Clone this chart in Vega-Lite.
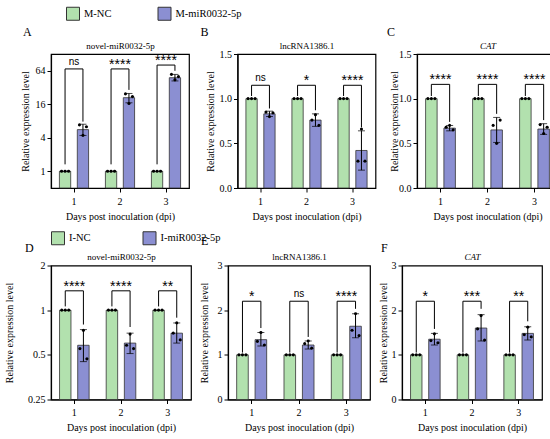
{
  "$schema": "https://vega.github.io/schema/vega-lite/v6.json",
  "description": "Relative expression of novel-miR0032-5p, lncRNA1386.1 and CAT after inoculation, six panels",
  "padding": {"left": 3, "top": 6, "right": 5, "bottom": 5},
  "datasets": {
    "bars": [
      {"p": "A", "day": 1, "grp": "NC", "label": "M-NC", "mean": 1},
      {"p": "A", "day": 1, "grp": "miR", "label": "M-miR0032-5p", "mean": 5.6, "lo": 4.4, "hi": 7.0},
      {"p": "A", "day": 2, "grp": "NC", "label": "M-NC", "mean": 1},
      {"p": "A", "day": 2, "grp": "miR", "label": "M-miR0032-5p", "mean": 21, "lo": 17, "hi": 25},
      {"p": "A", "day": 3, "grp": "NC", "label": "M-NC", "mean": 1},
      {"p": "A", "day": 3, "grp": "miR", "label": "M-miR0032-5p", "mean": 48, "lo": 42, "hi": 55},
      {"p": "B", "day": 1, "grp": "NC", "label": "M-NC", "mean": 1},
      {"p": "B", "day": 1, "grp": "miR", "label": "M-miR0032-5p", "mean": 0.83, "lo": 0.80, "hi": 0.86},
      {"p": "B", "day": 2, "grp": "NC", "label": "M-NC", "mean": 1},
      {"p": "B", "day": 2, "grp": "miR", "label": "M-miR0032-5p", "mean": 0.76, "lo": 0.69, "hi": 0.83},
      {"p": "B", "day": 3, "grp": "NC", "label": "M-NC", "mean": 1},
      {"p": "B", "day": 3, "grp": "miR", "label": "M-miR0032-5p", "mean": 0.42, "lo": 0.20, "hi": 0.64},
      {"p": "C", "day": 1, "grp": "NC", "label": "M-NC", "mean": 1},
      {"p": "C", "day": 1, "grp": "miR", "label": "M-miR0032-5p", "mean": 0.67, "lo": 0.64, "hi": 0.70},
      {"p": "C", "day": 2, "grp": "NC", "label": "M-NC", "mean": 1},
      {"p": "C", "day": 2, "grp": "miR", "label": "M-miR0032-5p", "mean": 0.65, "lo": 0.51, "hi": 0.79},
      {"p": "C", "day": 3, "grp": "NC", "label": "M-NC", "mean": 1},
      {"p": "C", "day": 3, "grp": "miR", "label": "M-miR0032-5p", "mean": 0.66, "lo": 0.60, "hi": 0.72},
      {"p": "D", "day": 1, "grp": "NC", "label": "I-NC", "mean": 1},
      {"p": "D", "day": 1, "grp": "miR", "label": "I-miR0032-5p", "mean": 0.58, "lo": 0.45, "hi": 0.74},
      {"p": "D", "day": 2, "grp": "NC", "label": "I-NC", "mean": 1},
      {"p": "D", "day": 2, "grp": "miR", "label": "I-miR0032-5p", "mean": 0.60, "lo": 0.51, "hi": 0.70},
      {"p": "D", "day": 3, "grp": "NC", "label": "I-NC", "mean": 1},
      {"p": "D", "day": 3, "grp": "miR", "label": "I-miR0032-5p", "mean": 0.70, "lo": 0.60, "hi": 0.82},
      {"p": "E", "day": 1, "grp": "NC", "label": "I-NC", "mean": 1},
      {"p": "E", "day": 1, "grp": "miR", "label": "I-miR0032-5p", "mean": 1.34, "lo": 1.20, "hi": 1.50},
      {"p": "E", "day": 2, "grp": "NC", "label": "I-NC", "mean": 1},
      {"p": "E", "day": 2, "grp": "miR", "label": "I-miR0032-5p", "mean": 1.22, "lo": 1.13, "hi": 1.31},
      {"p": "E", "day": 3, "grp": "NC", "label": "I-NC", "mean": 1},
      {"p": "E", "day": 3, "grp": "miR", "label": "I-miR0032-5p", "mean": 1.64, "lo": 1.38, "hi": 1.92},
      {"p": "F", "day": 1, "grp": "NC", "label": "I-NC", "mean": 1},
      {"p": "F", "day": 1, "grp": "miR", "label": "I-miR0032-5p", "mean": 1.35, "lo": 1.22, "hi": 1.48},
      {"p": "F", "day": 2, "grp": "NC", "label": "I-NC", "mean": 1},
      {"p": "F", "day": 2, "grp": "miR", "label": "I-miR0032-5p", "mean": 1.60, "lo": 1.31, "hi": 1.90},
      {"p": "F", "day": 3, "grp": "NC", "label": "I-NC", "mean": 1},
      {"p": "F", "day": 3, "grp": "miR", "label": "I-miR0032-5p", "mean": 1.48, "lo": 1.33, "hi": 1.63}
    ],
    "pts": [
      {"p": "A", "day": 1, "grp": "NC", "v1": 1, "v2": 1, "v3": 1},
      {"p": "A", "day": 1, "grp": "miR", "v1": 6.8, "v2": 4.4, "v3": 6.3},
      {"p": "A", "day": 2, "grp": "NC", "v1": 1, "v2": 1, "v3": 1},
      {"p": "A", "day": 2, "grp": "miR", "v1": 24.5, "v2": 16.5, "v3": 22},
      {"p": "A", "day": 3, "grp": "NC", "v1": 1, "v2": 1, "v3": 1},
      {"p": "A", "day": 3, "grp": "miR", "v1": 55, "v2": 44, "v3": 50},
      {"p": "B", "day": 1, "grp": "NC", "v1": 1, "v2": 1, "v3": 1},
      {"p": "B", "day": 1, "grp": "miR", "v1": 0.85, "v2": 0.80, "v3": 0.84},
      {"p": "B", "day": 2, "grp": "NC", "v1": 1, "v2": 1, "v3": 1},
      {"p": "B", "day": 2, "grp": "miR", "v1": 0.76, "v2": 0.82, "v3": 0.70},
      {"p": "B", "day": 3, "grp": "NC", "v1": 1, "v2": 1, "v3": 1},
      {"p": "B", "day": 3, "grp": "miR", "v1": 0.30, "v2": 0.66, "v3": 0.30},
      {"p": "C", "day": 1, "grp": "NC", "v1": 1, "v2": 1, "v3": 1},
      {"p": "C", "day": 1, "grp": "miR", "v1": 0.68, "v2": 0.70, "v3": 0.65},
      {"p": "C", "day": 2, "grp": "NC", "v1": 1, "v2": 1, "v3": 1},
      {"p": "C", "day": 2, "grp": "miR", "v1": 0.70, "v2": 0.50, "v3": 0.76},
      {"p": "C", "day": 3, "grp": "NC", "v1": 1, "v2": 1, "v3": 1},
      {"p": "C", "day": 3, "grp": "miR", "v1": 0.71, "v2": 0.61, "v3": 0.68},
      {"p": "D", "day": 1, "grp": "NC", "v1": 1, "v2": 1, "v3": 1},
      {"p": "D", "day": 1, "grp": "miR", "v1": 0.55, "v2": 0.73, "v3": 0.47},
      {"p": "D", "day": 2, "grp": "NC", "v1": 1, "v2": 1, "v3": 1},
      {"p": "D", "day": 2, "grp": "miR", "v1": 0.58, "v2": 0.69, "v3": 0.55},
      {"p": "D", "day": 3, "grp": "NC", "v1": 1, "v2": 1, "v3": 1},
      {"p": "D", "day": 3, "grp": "miR", "v1": 0.70, "v2": 0.82, "v3": 0.63},
      {"p": "E", "day": 1, "grp": "NC", "v1": 1, "v2": 1, "v3": 1},
      {"p": "E", "day": 1, "grp": "miR", "v1": 1.30, "v2": 1.50, "v3": 1.22},
      {"p": "E", "day": 2, "grp": "NC", "v1": 1, "v2": 1, "v3": 1},
      {"p": "E", "day": 2, "grp": "miR", "v1": 1.25, "v2": 1.31, "v3": 1.15},
      {"p": "E", "day": 3, "grp": "NC", "v1": 1, "v2": 1, "v3": 1},
      {"p": "E", "day": 3, "grp": "miR", "v1": 1.55, "v2": 1.92, "v3": 1.43},
      {"p": "F", "day": 1, "grp": "NC", "v1": 1, "v2": 1, "v3": 1},
      {"p": "F", "day": 1, "grp": "miR", "v1": 1.32, "v2": 1.47, "v3": 1.27},
      {"p": "F", "day": 2, "grp": "NC", "v1": 1, "v2": 1, "v3": 1},
      {"p": "F", "day": 2, "grp": "miR", "v1": 1.58, "v2": 1.88, "v3": 1.33},
      {"p": "F", "day": 3, "grp": "NC", "v1": 1, "v2": 1, "v3": 1},
      {"p": "F", "day": 3, "grp": "miR", "v1": 1.45, "v2": 1.62, "v3": 1.40}
    ],
    "brk": [
      {"p": "A", "day": 1, "k": 1, "grp": "NC", "v": 1.33}, {"p": "A", "day": 1, "k": 2, "grp": "NC", "v": 69}, {"p": "A", "day": 1, "k": 3, "grp": "miR", "v": 69}, {"p": "A", "day": 1, "k": 4, "grp": "miR", "v": 7.8},
      {"p": "A", "day": 2, "k": 1, "grp": "NC", "v": 1.33}, {"p": "A", "day": 2, "k": 2, "grp": "NC", "v": 69}, {"p": "A", "day": 2, "k": 3, "grp": "miR", "v": 69}, {"p": "A", "day": 2, "k": 4, "grp": "miR", "v": 29},
      {"p": "A", "day": 3, "k": 1, "grp": "NC", "v": 1.33}, {"p": "A", "day": 3, "k": 2, "grp": "NC", "v": 81}, {"p": "A", "day": 3, "k": 3, "grp": "miR", "v": 81}, {"p": "A", "day": 3, "k": 4, "grp": "miR", "v": 64},
      {"p": "B", "day": 1, "k": 1, "grp": "NC", "v": 1.03}, {"p": "B", "day": 1, "k": 2, "grp": "NC", "v": 1.15}, {"p": "B", "day": 1, "k": 3, "grp": "miR", "v": 1.15}, {"p": "B", "day": 1, "k": 4, "grp": "miR", "v": 0.89},
      {"p": "B", "day": 2, "k": 1, "grp": "NC", "v": 1.03}, {"p": "B", "day": 2, "k": 2, "grp": "NC", "v": 1.15}, {"p": "B", "day": 2, "k": 3, "grp": "miR", "v": 1.15}, {"p": "B", "day": 2, "k": 4, "grp": "miR", "v": 0.87},
      {"p": "B", "day": 3, "k": 1, "grp": "NC", "v": 1.03}, {"p": "B", "day": 3, "k": 2, "grp": "NC", "v": 1.15}, {"p": "B", "day": 3, "k": 3, "grp": "miR", "v": 1.15}, {"p": "B", "day": 3, "k": 4, "grp": "miR", "v": 0.68},
      {"p": "C", "day": 1, "k": 1, "grp": "NC", "v": 1.03}, {"p": "C", "day": 1, "k": 2, "grp": "NC", "v": 1.16}, {"p": "C", "day": 1, "k": 3, "grp": "miR", "v": 1.16}, {"p": "C", "day": 1, "k": 4, "grp": "miR", "v": 0.74},
      {"p": "C", "day": 2, "k": 1, "grp": "NC", "v": 1.03}, {"p": "C", "day": 2, "k": 2, "grp": "NC", "v": 1.16}, {"p": "C", "day": 2, "k": 3, "grp": "miR", "v": 1.16}, {"p": "C", "day": 2, "k": 4, "grp": "miR", "v": 0.83},
      {"p": "C", "day": 3, "k": 1, "grp": "NC", "v": 1.03}, {"p": "C", "day": 3, "k": 2, "grp": "NC", "v": 1.16}, {"p": "C", "day": 3, "k": 3, "grp": "miR", "v": 1.16}, {"p": "C", "day": 3, "k": 4, "grp": "miR", "v": 0.76},
      {"p": "D", "day": 1, "k": 1, "grp": "NC", "v": 1.06}, {"p": "D", "day": 1, "k": 2, "grp": "NC", "v": 1.35}, {"p": "D", "day": 1, "k": 3, "grp": "miR", "v": 1.35}, {"p": "D", "day": 1, "k": 4, "grp": "miR", "v": 0.80},
      {"p": "D", "day": 2, "k": 1, "grp": "NC", "v": 1.06}, {"p": "D", "day": 2, "k": 2, "grp": "NC", "v": 1.35}, {"p": "D", "day": 2, "k": 3, "grp": "miR", "v": 1.35}, {"p": "D", "day": 2, "k": 4, "grp": "miR", "v": 0.77},
      {"p": "D", "day": 3, "k": 1, "grp": "NC", "v": 1.06}, {"p": "D", "day": 3, "k": 2, "grp": "NC", "v": 1.35}, {"p": "D", "day": 3, "k": 3, "grp": "miR", "v": 1.35}, {"p": "D", "day": 3, "k": 4, "grp": "miR", "v": 0.89},
      {"p": "E", "day": 1, "k": 1, "grp": "NC", "v": 1.05}, {"p": "E", "day": 1, "k": 2, "grp": "NC", "v": 2.2}, {"p": "E", "day": 1, "k": 3, "grp": "miR", "v": 2.2}, {"p": "E", "day": 1, "k": 4, "grp": "miR", "v": 1.60},
      {"p": "E", "day": 2, "k": 1, "grp": "NC", "v": 1.05}, {"p": "E", "day": 2, "k": 2, "grp": "NC", "v": 2.2}, {"p": "E", "day": 2, "k": 3, "grp": "miR", "v": 2.2}, {"p": "E", "day": 2, "k": 4, "grp": "miR", "v": 1.40},
      {"p": "E", "day": 3, "k": 1, "grp": "NC", "v": 1.05}, {"p": "E", "day": 3, "k": 2, "grp": "NC", "v": 2.2}, {"p": "E", "day": 3, "k": 3, "grp": "miR", "v": 2.2}, {"p": "E", "day": 3, "k": 4, "grp": "miR", "v": 2.03},
      {"p": "F", "day": 1, "k": 1, "grp": "NC", "v": 1.05}, {"p": "F", "day": 1, "k": 2, "grp": "NC", "v": 2.2}, {"p": "F", "day": 1, "k": 3, "grp": "miR", "v": 2.2}, {"p": "F", "day": 1, "k": 4, "grp": "miR", "v": 1.58},
      {"p": "F", "day": 2, "k": 1, "grp": "NC", "v": 1.05}, {"p": "F", "day": 2, "k": 2, "grp": "NC", "v": 2.2}, {"p": "F", "day": 2, "k": 3, "grp": "miR", "v": 2.2}, {"p": "F", "day": 2, "k": 4, "grp": "miR", "v": 2.03},
      {"p": "F", "day": 3, "k": 1, "grp": "NC", "v": 1.05}, {"p": "F", "day": 3, "k": 2, "grp": "NC", "v": 2.2}, {"p": "F", "day": 3, "k": 3, "grp": "miR", "v": 2.2}, {"p": "F", "day": 3, "k": 4, "grp": "miR", "v": 1.75}
    ],
    "sig": [
      {"p": "A", "day": 1, "txt": "ns", "v": 69}, {"p": "A", "day": 2, "txt": "****", "v": 69}, {"p": "A", "day": 3, "txt": "****", "v": 81},
      {"p": "B", "day": 1, "txt": "ns", "v": 1.15}, {"p": "B", "day": 2, "txt": "*", "v": 1.15}, {"p": "B", "day": 3, "txt": "****", "v": 1.15},
      {"p": "C", "day": 1, "txt": "****", "v": 1.16}, {"p": "C", "day": 2, "txt": "****", "v": 1.16}, {"p": "C", "day": 3, "txt": "****", "v": 1.16},
      {"p": "D", "day": 1, "txt": "****", "v": 1.35}, {"p": "D", "day": 2, "txt": "****", "v": 1.35}, {"p": "D", "day": 3, "txt": "**", "v": 1.35},
      {"p": "E", "day": 1, "txt": "*", "v": 2.2}, {"p": "E", "day": 2, "txt": "ns", "v": 2.2}, {"p": "E", "day": 3, "txt": "****", "v": 2.2},
      {"p": "F", "day": 1, "txt": "*", "v": 2.2}, {"p": "F", "day": 2, "txt": "***", "v": 2.2}, {"p": "F", "day": 3, "txt": "**", "v": 2.2}
    ]
  },
  "concat": [
    {
      "spacing": 9.5,
      "resolve": {"scale": {"xOffset": "independent"}},
      "hconcat": [
        {
          "width": 138, "height": 134,
          "title": {"text": "A", "dx": -28, "offset": 2},
          "resolve": {"axis": {"x": "independent", "y": "independent"}},
          "layer": [
            {"data": {"name": "bars"}, "transform": [{"filter": "datum.p=='A'"}],
             "mark": {"type": "bar", "stroke": "#333", "strokeWidth": 0.8},
             "encoding": {
               "x": {"field": "day", "type": "ordinal", "scale": {"paddingInner": 0, "paddingOuter": -0.09}, "axis": {"title": "Days post inoculation (dpi)"}},
               "xOffset": {"field": "grp", "type": "nominal", "scale": {"domain": ["NC", "miR"], "paddingInner": 0.37, "paddingOuter": 0.47}},
               "y": {"field": "mean", "type": "quantitative", "scale": {"type": "log", "base": 2, "domain": [0.5, 128], "nice": false}, "axis": {"title": "Relative expression level", "values": [1, 4, 16, 64], "format": "~g", "titlePadding": 5}},
               "y2": {"datum": 0.5},
               "color": {"field": "label", "type": "nominal", "scale": {"domain": ["M-NC", "M-miR0032-5p"], "range": ["#b2e1ae", "#8b8fd2"]}, "legend": {"title": null, "orient": "none", "direction": "horizontal", "legendX": 15, "legendY": -47.5, "columnPadding": 43.5}}
             }},
            {"data": {"name": "bars"}, "transform": [{"filter": "datum.p=='A' && datum.grp=='miR'"}],
             "mark": {"type": "rule", "color": "#000", "strokeWidth": 1},
             "encoding": {"x": {"field": "day", "type": "ordinal", "axis": null}, "xOffset": {"field": "grp", "type": "nominal"}, "y": {"field": "lo", "type": "quantitative", "axis": null}, "y2": {"field": "hi"}}},
            {"data": {"name": "bars"}, "transform": [{"filter": "datum.p=='A' && datum.grp=='miR'"}, {"fold": ["lo", "hi"], "as": ["end", "ev"]}],
             "mark": {"type": "tick", "color": "#000", "thickness": 1, "size": 7},
             "encoding": {"x": {"field": "day", "type": "ordinal", "axis": null}, "xOffset": {"field": "grp", "type": "nominal"}, "y": {"field": "ev", "type": "quantitative", "axis": null}}},
            {"data": {"name": "pts"}, "transform": [{"filter": "datum.p=='A'"}],
             "mark": {"type": "point", "shape": "M-0.38,0L-0.474,0.226L-0.7,0.32L-0.926,0.226L-1.02,0L-0.926,-0.226L-0.7,-0.32L-0.474,-0.226Z", "size": 100, "filled": true, "color": "#000", "opacity": 1, "strokeWidth": 0},
             "encoding": {"x": {"field": "day", "type": "ordinal", "axis": null}, "xOffset": {"field": "grp", "type": "nominal"}, "y": {"field": "v1", "type": "quantitative", "axis": null}}},
            {"data": {"name": "pts"}, "transform": [{"filter": "datum.p=='A'"}],
             "mark": {"type": "point", "shape": "M0.32,0L0.226,0.226L0,0.32L-0.226,0.226L-0.32,0L-0.226,-0.226L0,-0.32L0.226,-0.226Z", "size": 100, "filled": true, "color": "#000", "opacity": 1, "strokeWidth": 0},
             "encoding": {"x": {"field": "day", "type": "ordinal", "axis": null}, "xOffset": {"field": "grp", "type": "nominal"}, "y": {"field": "v2", "type": "quantitative", "axis": null}}},
            {"data": {"name": "pts"}, "transform": [{"filter": "datum.p=='A'"}],
             "mark": {"type": "point", "shape": "M1.02,0L0.926,0.226L0.7,0.32L0.474,0.226L0.38,0L0.474,-0.226L0.7,-0.32L0.926,-0.226Z", "size": 100, "filled": true, "color": "#000", "opacity": 1, "strokeWidth": 0},
             "encoding": {"x": {"field": "day", "type": "ordinal", "axis": null}, "xOffset": {"field": "grp", "type": "nominal"}, "y": {"field": "v3", "type": "quantitative", "axis": null}}},
            {"data": {"name": "brk"}, "transform": [{"filter": "datum.p=='A'"}],
             "mark": {"type": "line", "color": "#000", "strokeWidth": 1},
             "encoding": {"x": {"field": "day", "type": "ordinal", "axis": {"orient": "top", "title": "novel-miR0032-5p", "labels": false, "ticks": false, "domain": false, "titleFontSize": 9, "titlePadding": 4}}, "xOffset": {"field": "grp", "type": "nominal"}, "y": {"field": "v", "type": "quantitative", "axis": null}, "detail": {"field": "day"}, "order": {"field": "k", "type": "quantitative"}}},
            {"data": {"name": "sig"}, "transform": [{"filter": "datum.p=='A' && datum.txt=='ns'"}],
             "mark": {"type": "text", "font": "Liberation Sans", "fontSize": 10, "baseline": "alphabetic", "dy": -4},
             "encoding": {"x": {"field": "day", "type": "ordinal", "axis": null}, "y": {"field": "v", "type": "quantitative", "axis": null}, "text": {"field": "txt"}}},
            {"data": {"name": "sig"}, "transform": [{"filter": "datum.p=='A' && datum.txt!='ns'"}],
             "mark": {"type": "text", "font": "Liberation Sans", "fontSize": 14, "baseline": "alphabetic", "dy": 0},
             "encoding": {"x": {"field": "day", "type": "ordinal", "axis": null}, "y": {"field": "v", "type": "quantitative", "axis": null}, "text": {"field": "txt"}}}
          ]
        },
        {
          "width": 138, "height": 134,
          "title": {"text": "B", "dx": -37, "offset": 2},
          "resolve": {"axis": {"x": "independent", "y": "independent"}},
          "layer": [
            {"data": {"name": "bars"}, "transform": [{"filter": "datum.p=='B'"}],
             "mark": {"type": "bar", "stroke": "#333", "strokeWidth": 0.8},
             "encoding": {
               "x": {"field": "day", "type": "ordinal", "scale": {"paddingInner": 0, "paddingOuter": -0.09}, "axis": {"title": "Days post inoculation (dpi)"}},
               "xOffset": {"field": "grp", "type": "nominal", "scale": {"domain": ["NC", "miR"], "paddingInner": 0.37, "paddingOuter": 0.47}},
               "y": {"field": "mean", "type": "quantitative", "scale": {"domain": [0, 1.5], "nice": false}, "axis": {"title": "Relative expression level", "values": [0, 0.5, 1, 1.5], "format": ".1f", "titlePadding": 4}},
               "color": {"field": "label", "type": "nominal", "scale": {"domain": ["M-NC", "M-miR0032-5p"], "range": ["#b2e1ae", "#8b8fd2"]}, "legend": null}
             }},
            {"data": {"name": "bars"}, "transform": [{"filter": "datum.p=='B' && datum.grp=='miR'"}],
             "mark": {"type": "rule", "color": "#000", "strokeWidth": 1},
             "encoding": {"x": {"field": "day", "type": "ordinal", "axis": null}, "xOffset": {"field": "grp", "type": "nominal"}, "y": {"field": "lo", "type": "quantitative", "axis": null}, "y2": {"field": "hi"}}},
            {"data": {"name": "bars"}, "transform": [{"filter": "datum.p=='B' && datum.grp=='miR'"}, {"fold": ["lo", "hi"], "as": ["end", "ev"]}],
             "mark": {"type": "tick", "color": "#000", "thickness": 1, "size": 7},
             "encoding": {"x": {"field": "day", "type": "ordinal", "axis": null}, "xOffset": {"field": "grp", "type": "nominal"}, "y": {"field": "ev", "type": "quantitative", "axis": null}}},
            {"data": {"name": "pts"}, "transform": [{"filter": "datum.p=='B'"}],
             "mark": {"type": "point", "shape": "M-0.38,0L-0.474,0.226L-0.7,0.32L-0.926,0.226L-1.02,0L-0.926,-0.226L-0.7,-0.32L-0.474,-0.226Z", "size": 100, "filled": true, "color": "#000", "opacity": 1, "strokeWidth": 0},
             "encoding": {"x": {"field": "day", "type": "ordinal", "axis": null}, "xOffset": {"field": "grp", "type": "nominal"}, "y": {"field": "v1", "type": "quantitative", "axis": null}}},
            {"data": {"name": "pts"}, "transform": [{"filter": "datum.p=='B'"}],
             "mark": {"type": "point", "shape": "M0.32,0L0.226,0.226L0,0.32L-0.226,0.226L-0.32,0L-0.226,-0.226L0,-0.32L0.226,-0.226Z", "size": 100, "filled": true, "color": "#000", "opacity": 1, "strokeWidth": 0},
             "encoding": {"x": {"field": "day", "type": "ordinal", "axis": null}, "xOffset": {"field": "grp", "type": "nominal"}, "y": {"field": "v2", "type": "quantitative", "axis": null}}},
            {"data": {"name": "pts"}, "transform": [{"filter": "datum.p=='B'"}],
             "mark": {"type": "point", "shape": "M1.02,0L0.926,0.226L0.7,0.32L0.474,0.226L0.38,0L0.474,-0.226L0.7,-0.32L0.926,-0.226Z", "size": 100, "filled": true, "color": "#000", "opacity": 1, "strokeWidth": 0},
             "encoding": {"x": {"field": "day", "type": "ordinal", "axis": null}, "xOffset": {"field": "grp", "type": "nominal"}, "y": {"field": "v3", "type": "quantitative", "axis": null}}},
            {"data": {"name": "brk"}, "transform": [{"filter": "datum.p=='B'"}],
             "mark": {"type": "line", "color": "#000", "strokeWidth": 1},
             "encoding": {"x": {"field": "day", "type": "ordinal", "axis": {"orient": "top", "title": "lncRNA1386.1", "labels": false, "ticks": false, "domain": false, "titleFontSize": 9, "titlePadding": 4}}, "xOffset": {"field": "grp", "type": "nominal"}, "y": {"field": "v", "type": "quantitative", "axis": null}, "detail": {"field": "day"}, "order": {"field": "k", "type": "quantitative"}}},
            {"data": {"name": "sig"}, "transform": [{"filter": "datum.p=='B' && datum.txt=='ns'"}],
             "mark": {"type": "text", "font": "Liberation Sans", "fontSize": 10, "baseline": "alphabetic", "dy": -4},
             "encoding": {"x": {"field": "day", "type": "ordinal", "axis": null}, "y": {"field": "v", "type": "quantitative", "axis": null}, "text": {"field": "txt"}}},
            {"data": {"name": "sig"}, "transform": [{"filter": "datum.p=='B' && datum.txt!='ns'"}],
             "mark": {"type": "text", "font": "Liberation Sans", "fontSize": 14, "baseline": "alphabetic", "dy": 0},
             "encoding": {"x": {"field": "day", "type": "ordinal", "axis": null}, "y": {"field": "v", "type": "quantitative", "axis": null}, "text": {"field": "txt"}}}
          ]
        },
        {
          "width": 141, "height": 134,
          "title": {"text": "C", "dx": -30, "offset": 2},
          "resolve": {"axis": {"x": "independent", "y": "independent"}},
          "layer": [
            {"data": {"name": "bars"}, "transform": [{"filter": "datum.p=='C'"}],
             "mark": {"type": "bar", "stroke": "#333", "strokeWidth": 0.8},
             "encoding": {
               "x": {"field": "day", "type": "ordinal", "scale": {"paddingInner": 0, "paddingOuter": -0.09}, "axis": {"title": "Days post inoculation (dpi)"}},
               "xOffset": {"field": "grp", "type": "nominal", "scale": {"domain": ["NC", "miR"], "paddingInner": 0.37, "paddingOuter": 0.47}},
               "y": {"field": "mean", "type": "quantitative", "scale": {"domain": [0, 1.5], "nice": false}, "axis": {"title": "Relative expression level", "values": [0, 0.5, 1, 1.5], "format": ".1f", "titlePadding": -1}},
               "color": {"field": "label", "type": "nominal", "scale": {"domain": ["M-NC", "M-miR0032-5p"], "range": ["#b2e1ae", "#8b8fd2"]}, "legend": null}
             }},
            {"data": {"name": "bars"}, "transform": [{"filter": "datum.p=='C' && datum.grp=='miR'"}],
             "mark": {"type": "rule", "color": "#000", "strokeWidth": 1},
             "encoding": {"x": {"field": "day", "type": "ordinal", "axis": null}, "xOffset": {"field": "grp", "type": "nominal"}, "y": {"field": "lo", "type": "quantitative", "axis": null}, "y2": {"field": "hi"}}},
            {"data": {"name": "bars"}, "transform": [{"filter": "datum.p=='C' && datum.grp=='miR'"}, {"fold": ["lo", "hi"], "as": ["end", "ev"]}],
             "mark": {"type": "tick", "color": "#000", "thickness": 1, "size": 7},
             "encoding": {"x": {"field": "day", "type": "ordinal", "axis": null}, "xOffset": {"field": "grp", "type": "nominal"}, "y": {"field": "ev", "type": "quantitative", "axis": null}}},
            {"data": {"name": "pts"}, "transform": [{"filter": "datum.p=='C'"}],
             "mark": {"type": "point", "shape": "M-0.38,0L-0.474,0.226L-0.7,0.32L-0.926,0.226L-1.02,0L-0.926,-0.226L-0.7,-0.32L-0.474,-0.226Z", "size": 100, "filled": true, "color": "#000", "opacity": 1, "strokeWidth": 0},
             "encoding": {"x": {"field": "day", "type": "ordinal", "axis": null}, "xOffset": {"field": "grp", "type": "nominal"}, "y": {"field": "v1", "type": "quantitative", "axis": null}}},
            {"data": {"name": "pts"}, "transform": [{"filter": "datum.p=='C'"}],
             "mark": {"type": "point", "shape": "M0.32,0L0.226,0.226L0,0.32L-0.226,0.226L-0.32,0L-0.226,-0.226L0,-0.32L0.226,-0.226Z", "size": 100, "filled": true, "color": "#000", "opacity": 1, "strokeWidth": 0},
             "encoding": {"x": {"field": "day", "type": "ordinal", "axis": null}, "xOffset": {"field": "grp", "type": "nominal"}, "y": {"field": "v2", "type": "quantitative", "axis": null}}},
            {"data": {"name": "pts"}, "transform": [{"filter": "datum.p=='C'"}],
             "mark": {"type": "point", "shape": "M1.02,0L0.926,0.226L0.7,0.32L0.474,0.226L0.38,0L0.474,-0.226L0.7,-0.32L0.926,-0.226Z", "size": 100, "filled": true, "color": "#000", "opacity": 1, "strokeWidth": 0},
             "encoding": {"x": {"field": "day", "type": "ordinal", "axis": null}, "xOffset": {"field": "grp", "type": "nominal"}, "y": {"field": "v3", "type": "quantitative", "axis": null}}},
            {"data": {"name": "brk"}, "transform": [{"filter": "datum.p=='C'"}],
             "mark": {"type": "line", "color": "#000", "strokeWidth": 1},
             "encoding": {"x": {"field": "day", "type": "ordinal", "axis": {"orient": "top", "title": "CAT", "titleFontStyle": "italic", "labels": false, "ticks": false, "domain": false, "titleFontSize": 9, "titlePadding": 4}}, "xOffset": {"field": "grp", "type": "nominal"}, "y": {"field": "v", "type": "quantitative", "axis": null}, "detail": {"field": "day"}, "order": {"field": "k", "type": "quantitative"}}},
            {"data": {"name": "sig"}, "transform": [{"filter": "datum.p=='C' && datum.txt=='ns'"}],
             "mark": {"type": "text", "font": "Liberation Sans", "fontSize": 10, "baseline": "alphabetic", "dy": -4},
             "encoding": {"x": {"field": "day", "type": "ordinal", "axis": null}, "y": {"field": "v", "type": "quantitative", "axis": null}, "text": {"field": "txt"}}},
            {"data": {"name": "sig"}, "transform": [{"filter": "datum.p=='C' && datum.txt!='ns'"}],
             "mark": {"type": "text", "font": "Liberation Sans", "fontSize": 14, "baseline": "alphabetic", "dy": 0},
             "encoding": {"x": {"field": "day", "type": "ordinal", "axis": null}, "y": {"field": "v", "type": "quantitative", "axis": null}, "text": {"field": "txt"}}}
          ]
        }
      ]
    },
    {
      "spacing": 6,
      "resolve": {"scale": {"xOffset": "independent"}},
      "hconcat": [
        {
          "width": 140, "height": 134,
          "title": {"text": "D", "dx": -26, "offset": -2},
          "resolve": {"axis": {"x": "independent", "y": "independent"}},
          "layer": [
            {"data": {"name": "bars"}, "transform": [{"filter": "datum.p=='D'"}],
             "mark": {"type": "bar", "stroke": "#333", "strokeWidth": 0.8},
             "encoding": {
               "x": {"field": "day", "type": "ordinal", "scale": {"paddingInner": 0, "paddingOuter": -0.09}, "axis": {"title": "Days post inoculation (dpi)"}},
               "xOffset": {"field": "grp", "type": "nominal", "scale": {"domain": ["NC", "miR"], "paddingInner": 0.37, "paddingOuter": 0.47}},
               "y": {"field": "mean", "type": "quantitative", "scale": {"type": "log", "base": 2, "domain": [0.25, 2], "nice": false}, "axis": {"title": "Relative expression level", "values": [0.25, 0.5, 1, 2], "format": "~g", "titlePadding": 13}},
               "y2": {"datum": 0.25},
               "color": {"field": "label", "type": "nominal", "scale": {"domain": ["I-NC", "I-miR0032-5p"], "range": ["#b2e1ae", "#8b8fd2"]}, "legend": {"title": null, "orient": "none", "direction": "horizontal", "legendX": 0, "legendY": -34.5, "columnPadding": 49.5}}
             }},
            {"data": {"name": "bars"}, "transform": [{"filter": "datum.p=='D' && datum.grp=='miR'"}],
             "mark": {"type": "rule", "color": "#000", "strokeWidth": 1},
             "encoding": {"x": {"field": "day", "type": "ordinal", "axis": null}, "xOffset": {"field": "grp", "type": "nominal"}, "y": {"field": "lo", "type": "quantitative", "axis": null}, "y2": {"field": "hi"}}},
            {"data": {"name": "bars"}, "transform": [{"filter": "datum.p=='D' && datum.grp=='miR'"}, {"fold": ["lo", "hi"], "as": ["end", "ev"]}],
             "mark": {"type": "tick", "color": "#000", "thickness": 1, "size": 7},
             "encoding": {"x": {"field": "day", "type": "ordinal", "axis": null}, "xOffset": {"field": "grp", "type": "nominal"}, "y": {"field": "ev", "type": "quantitative", "axis": null}}},
            {"data": {"name": "pts"}, "transform": [{"filter": "datum.p=='D'"}],
             "mark": {"type": "point", "shape": "M-0.38,0L-0.474,0.226L-0.7,0.32L-0.926,0.226L-1.02,0L-0.926,-0.226L-0.7,-0.32L-0.474,-0.226Z", "size": 100, "filled": true, "color": "#000", "opacity": 1, "strokeWidth": 0},
             "encoding": {"x": {"field": "day", "type": "ordinal", "axis": null}, "xOffset": {"field": "grp", "type": "nominal"}, "y": {"field": "v1", "type": "quantitative", "axis": null}}},
            {"data": {"name": "pts"}, "transform": [{"filter": "datum.p=='D'"}],
             "mark": {"type": "point", "shape": "M0.32,0L0.226,0.226L0,0.32L-0.226,0.226L-0.32,0L-0.226,-0.226L0,-0.32L0.226,-0.226Z", "size": 100, "filled": true, "color": "#000", "opacity": 1, "strokeWidth": 0},
             "encoding": {"x": {"field": "day", "type": "ordinal", "axis": null}, "xOffset": {"field": "grp", "type": "nominal"}, "y": {"field": "v2", "type": "quantitative", "axis": null}}},
            {"data": {"name": "pts"}, "transform": [{"filter": "datum.p=='D'"}],
             "mark": {"type": "point", "shape": "M1.02,0L0.926,0.226L0.7,0.32L0.474,0.226L0.38,0L0.474,-0.226L0.7,-0.32L0.926,-0.226Z", "size": 100, "filled": true, "color": "#000", "opacity": 1, "strokeWidth": 0},
             "encoding": {"x": {"field": "day", "type": "ordinal", "axis": null}, "xOffset": {"field": "grp", "type": "nominal"}, "y": {"field": "v3", "type": "quantitative", "axis": null}}},
            {"data": {"name": "brk"}, "transform": [{"filter": "datum.p=='D'"}],
             "mark": {"type": "line", "color": "#000", "strokeWidth": 1},
             "encoding": {"x": {"field": "day", "type": "ordinal", "axis": {"orient": "top", "title": "novel-miR0032-5p", "labels": false, "ticks": false, "domain": false, "titleFontSize": 9, "titlePadding": 4}}, "xOffset": {"field": "grp", "type": "nominal"}, "y": {"field": "v", "type": "quantitative", "axis": null}, "detail": {"field": "day"}, "order": {"field": "k", "type": "quantitative"}}},
            {"data": {"name": "sig"}, "transform": [{"filter": "datum.p=='D' && datum.txt=='ns'"}],
             "mark": {"type": "text", "font": "Liberation Sans", "fontSize": 10, "baseline": "alphabetic", "dy": -4},
             "encoding": {"x": {"field": "day", "type": "ordinal", "axis": null}, "y": {"field": "v", "type": "quantitative", "axis": null}, "text": {"field": "txt"}}},
            {"data": {"name": "sig"}, "transform": [{"filter": "datum.p=='D' && datum.txt!='ns'"}],
             "mark": {"type": "text", "font": "Liberation Sans", "fontSize": 14, "baseline": "alphabetic", "dy": 0},
             "encoding": {"x": {"field": "day", "type": "ordinal", "axis": null}, "y": {"field": "v", "type": "quantitative", "axis": null}, "text": {"field": "txt"}}}
          ]
        },
        {
          "width": 142, "height": 134,
          "title": {"text": "E", "dx": -27, "offset": 5},
          "resolve": {"axis": {"x": "independent", "y": "independent"}},
          "layer": [
            {"data": {"name": "bars"}, "transform": [{"filter": "datum.p=='E'"}],
             "mark": {"type": "bar", "stroke": "#333", "strokeWidth": 0.8},
             "encoding": {
               "x": {"field": "day", "type": "ordinal", "scale": {"paddingInner": 0, "paddingOuter": -0.09}, "axis": {"title": "Days post inoculation (dpi)"}},
               "xOffset": {"field": "grp", "type": "nominal", "scale": {"domain": ["NC", "miR"], "paddingInner": 0.37, "paddingOuter": 0.47}},
               "y": {"field": "mean", "type": "quantitative", "scale": {"domain": [0, 3], "nice": false}, "axis": {"title": "Relative expression level", "values": [0, 1, 2, 3], "format": "d", "titlePadding": 7.5}},
               "color": {"field": "label", "type": "nominal", "scale": {"domain": ["I-NC", "I-miR0032-5p"], "range": ["#b2e1ae", "#8b8fd2"]}, "legend": null}
             }},
            {"data": {"name": "bars"}, "transform": [{"filter": "datum.p=='E' && datum.grp=='miR'"}],
             "mark": {"type": "rule", "color": "#000", "strokeWidth": 1},
             "encoding": {"x": {"field": "day", "type": "ordinal", "axis": null}, "xOffset": {"field": "grp", "type": "nominal"}, "y": {"field": "lo", "type": "quantitative", "axis": null}, "y2": {"field": "hi"}}},
            {"data": {"name": "bars"}, "transform": [{"filter": "datum.p=='E' && datum.grp=='miR'"}, {"fold": ["lo", "hi"], "as": ["end", "ev"]}],
             "mark": {"type": "tick", "color": "#000", "thickness": 1, "size": 7},
             "encoding": {"x": {"field": "day", "type": "ordinal", "axis": null}, "xOffset": {"field": "grp", "type": "nominal"}, "y": {"field": "ev", "type": "quantitative", "axis": null}}},
            {"data": {"name": "pts"}, "transform": [{"filter": "datum.p=='E'"}],
             "mark": {"type": "point", "shape": "M-0.38,0L-0.474,0.226L-0.7,0.32L-0.926,0.226L-1.02,0L-0.926,-0.226L-0.7,-0.32L-0.474,-0.226Z", "size": 100, "filled": true, "color": "#000", "opacity": 1, "strokeWidth": 0},
             "encoding": {"x": {"field": "day", "type": "ordinal", "axis": null}, "xOffset": {"field": "grp", "type": "nominal"}, "y": {"field": "v1", "type": "quantitative", "axis": null}}},
            {"data": {"name": "pts"}, "transform": [{"filter": "datum.p=='E'"}],
             "mark": {"type": "point", "shape": "M0.32,0L0.226,0.226L0,0.32L-0.226,0.226L-0.32,0L-0.226,-0.226L0,-0.32L0.226,-0.226Z", "size": 100, "filled": true, "color": "#000", "opacity": 1, "strokeWidth": 0},
             "encoding": {"x": {"field": "day", "type": "ordinal", "axis": null}, "xOffset": {"field": "grp", "type": "nominal"}, "y": {"field": "v2", "type": "quantitative", "axis": null}}},
            {"data": {"name": "pts"}, "transform": [{"filter": "datum.p=='E'"}],
             "mark": {"type": "point", "shape": "M1.02,0L0.926,0.226L0.7,0.32L0.474,0.226L0.38,0L0.474,-0.226L0.7,-0.32L0.926,-0.226Z", "size": 100, "filled": true, "color": "#000", "opacity": 1, "strokeWidth": 0},
             "encoding": {"x": {"field": "day", "type": "ordinal", "axis": null}, "xOffset": {"field": "grp", "type": "nominal"}, "y": {"field": "v3", "type": "quantitative", "axis": null}}},
            {"data": {"name": "brk"}, "transform": [{"filter": "datum.p=='E'"}],
             "mark": {"type": "line", "color": "#000", "strokeWidth": 1},
             "encoding": {"x": {"field": "day", "type": "ordinal", "axis": {"orient": "top", "title": "lncRNA1386.1", "labels": false, "ticks": false, "domain": false, "titleFontSize": 9, "titlePadding": 4}}, "xOffset": {"field": "grp", "type": "nominal"}, "y": {"field": "v", "type": "quantitative", "axis": null}, "detail": {"field": "day"}, "order": {"field": "k", "type": "quantitative"}}},
            {"data": {"name": "sig"}, "transform": [{"filter": "datum.p=='E' && datum.txt=='ns'"}],
             "mark": {"type": "text", "font": "Liberation Sans", "fontSize": 10, "baseline": "alphabetic", "dy": -4},
             "encoding": {"x": {"field": "day", "type": "ordinal", "axis": null}, "y": {"field": "v", "type": "quantitative", "axis": null}, "text": {"field": "txt"}}},
            {"data": {"name": "sig"}, "transform": [{"filter": "datum.p=='E' && datum.txt!='ns'"}],
             "mark": {"type": "text", "font": "Liberation Sans", "fontSize": 14, "baseline": "alphabetic", "dy": 0},
             "encoding": {"x": {"field": "day", "type": "ordinal", "axis": null}, "y": {"field": "v", "type": "quantitative", "axis": null}, "text": {"field": "txt"}}}
          ]
        },
        {
          "width": 140, "height": 134,
          "title": {"text": "F", "dx": -21, "offset": -2},
          "resolve": {"axis": {"x": "independent", "y": "independent"}},
          "layer": [
            {"data": {"name": "bars"}, "transform": [{"filter": "datum.p=='F'"}],
             "mark": {"type": "bar", "stroke": "#333", "strokeWidth": 0.8},
             "encoding": {
               "x": {"field": "day", "type": "ordinal", "scale": {"paddingInner": 0, "paddingOuter": -0.09}, "axis": {"title": "Days post inoculation (dpi)"}},
               "xOffset": {"field": "grp", "type": "nominal", "scale": {"domain": ["NC", "miR"], "paddingInner": 0.37, "paddingOuter": 0.47}},
               "y": {"field": "mean", "type": "quantitative", "scale": {"domain": [0, 3], "nice": false}, "axis": {"title": "Relative expression level", "values": [0, 1, 2, 3], "format": "d", "titlePadding": 2.5}},
               "color": {"field": "label", "type": "nominal", "scale": {"domain": ["I-NC", "I-miR0032-5p"], "range": ["#b2e1ae", "#8b8fd2"]}, "legend": null}
             }},
            {"data": {"name": "bars"}, "transform": [{"filter": "datum.p=='F' && datum.grp=='miR'"}],
             "mark": {"type": "rule", "color": "#000", "strokeWidth": 1},
             "encoding": {"x": {"field": "day", "type": "ordinal", "axis": null}, "xOffset": {"field": "grp", "type": "nominal"}, "y": {"field": "lo", "type": "quantitative", "axis": null}, "y2": {"field": "hi"}}},
            {"data": {"name": "bars"}, "transform": [{"filter": "datum.p=='F' && datum.grp=='miR'"}, {"fold": ["lo", "hi"], "as": ["end", "ev"]}],
             "mark": {"type": "tick", "color": "#000", "thickness": 1, "size": 7},
             "encoding": {"x": {"field": "day", "type": "ordinal", "axis": null}, "xOffset": {"field": "grp", "type": "nominal"}, "y": {"field": "ev", "type": "quantitative", "axis": null}}},
            {"data": {"name": "pts"}, "transform": [{"filter": "datum.p=='F'"}],
             "mark": {"type": "point", "shape": "M-0.38,0L-0.474,0.226L-0.7,0.32L-0.926,0.226L-1.02,0L-0.926,-0.226L-0.7,-0.32L-0.474,-0.226Z", "size": 100, "filled": true, "color": "#000", "opacity": 1, "strokeWidth": 0},
             "encoding": {"x": {"field": "day", "type": "ordinal", "axis": null}, "xOffset": {"field": "grp", "type": "nominal"}, "y": {"field": "v1", "type": "quantitative", "axis": null}}},
            {"data": {"name": "pts"}, "transform": [{"filter": "datum.p=='F'"}],
             "mark": {"type": "point", "shape": "M0.32,0L0.226,0.226L0,0.32L-0.226,0.226L-0.32,0L-0.226,-0.226L0,-0.32L0.226,-0.226Z", "size": 100, "filled": true, "color": "#000", "opacity": 1, "strokeWidth": 0},
             "encoding": {"x": {"field": "day", "type": "ordinal", "axis": null}, "xOffset": {"field": "grp", "type": "nominal"}, "y": {"field": "v2", "type": "quantitative", "axis": null}}},
            {"data": {"name": "pts"}, "transform": [{"filter": "datum.p=='F'"}],
             "mark": {"type": "point", "shape": "M1.02,0L0.926,0.226L0.7,0.32L0.474,0.226L0.38,0L0.474,-0.226L0.7,-0.32L0.926,-0.226Z", "size": 100, "filled": true, "color": "#000", "opacity": 1, "strokeWidth": 0},
             "encoding": {"x": {"field": "day", "type": "ordinal", "axis": null}, "xOffset": {"field": "grp", "type": "nominal"}, "y": {"field": "v3", "type": "quantitative", "axis": null}}},
            {"data": {"name": "brk"}, "transform": [{"filter": "datum.p=='F'"}],
             "mark": {"type": "line", "color": "#000", "strokeWidth": 1},
             "encoding": {"x": {"field": "day", "type": "ordinal", "axis": {"orient": "top", "title": "CAT", "titleFontStyle": "italic", "labels": false, "ticks": false, "domain": false, "titleFontSize": 9, "titlePadding": 4}}, "xOffset": {"field": "grp", "type": "nominal"}, "y": {"field": "v", "type": "quantitative", "axis": null}, "detail": {"field": "day"}, "order": {"field": "k", "type": "quantitative"}}},
            {"data": {"name": "sig"}, "transform": [{"filter": "datum.p=='F' && datum.txt=='ns'"}],
             "mark": {"type": "text", "font": "Liberation Sans", "fontSize": 10, "baseline": "alphabetic", "dy": -4},
             "encoding": {"x": {"field": "day", "type": "ordinal", "axis": null}, "y": {"field": "v", "type": "quantitative", "axis": null}, "text": {"field": "txt"}}},
            {"data": {"name": "sig"}, "transform": [{"filter": "datum.p=='F' && datum.txt!='ns'"}],
             "mark": {"type": "text", "font": "Liberation Sans", "fontSize": 14, "baseline": "alphabetic", "dy": 0},
             "encoding": {"x": {"field": "day", "type": "ordinal", "axis": null}, "y": {"field": "v", "type": "quantitative", "axis": null}, "text": {"field": "txt"}}}
          ]
        }
      ]
    }
  ],
  "columns": 1,
  "align": "none",
  "spacing": 8.5,
  "resolve": {"scale": {"color": "independent", "xOffset": "independent"}},
  "config": {
    "view": {"stroke": "#000", "strokeWidth": 1.2},
    "axis": {"labelFont": "Liberation Serif", "labelFontSize": 10, "labelColor": "#000", "titleFont": "Liberation Serif", "titleFontSize": 10, "titleFontWeight": "normal", "titleColor": "#000", "domainColor": "#000", "domainWidth": 1.2, "tickColor": "#000", "tickWidth": 1, "tickSize": 4, "labelPadding": 2, "grid": false},
    "axisX": {"labelAngle": 0, "labelPadding": 4, "titlePadding": 5},
    "title": {"font": "Liberation Serif", "fontSize": 12, "fontWeight": "normal", "anchor": "start", "frame": "group", "color": "#000"},
    "legend": {"symbolType": "square", "symbolSize": 169, "symbolStrokeColor": "#333", "symbolStrokeWidth": 1, "symbolOpacity": 1, "labelFont": "Liberation Serif", "labelFontSize": 10.5, "labelColor": "#000", "labelOffset": 4, "padding": 0}
  }
}
